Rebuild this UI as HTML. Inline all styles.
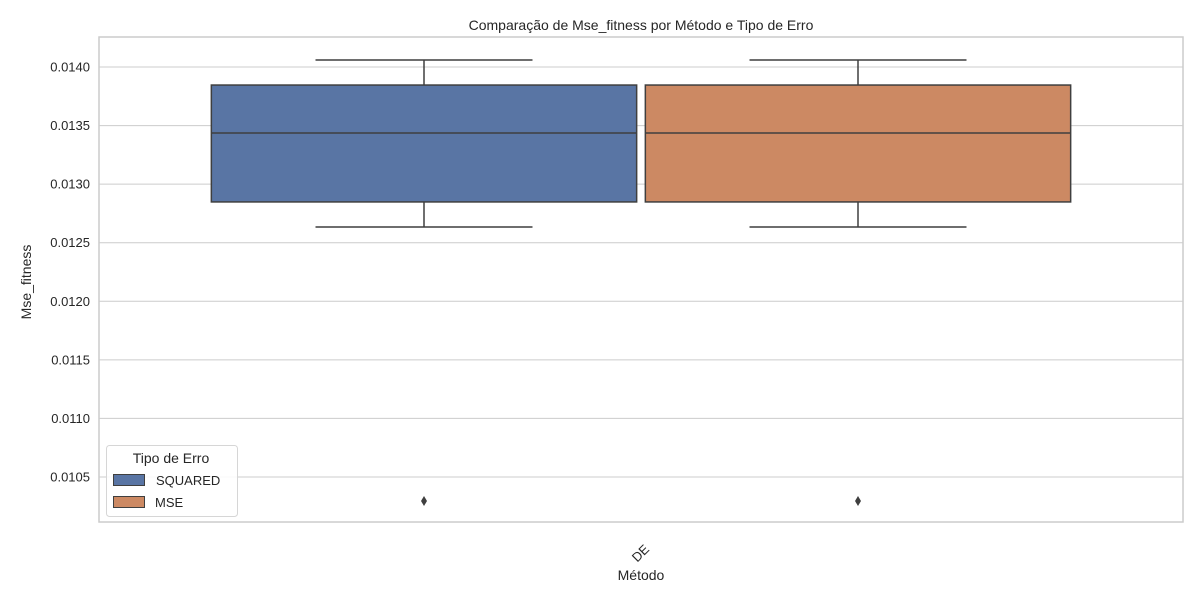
<!DOCTYPE html>
<html><head><meta charset="utf-8"><style>
body{margin:0;background:#fff;font-family:"Liberation Sans","DejaVu Sans",sans-serif;}
</style></head><body>
<svg id="chart" width="1200" height="600" xmlns="http://www.w3.org/2000/svg" font-family="Liberation Sans, DejaVu Sans, sans-serif">
<rect x="0" y="0" width="1200" height="600" fill="#fff"/>
<g id="grid"></g>
<rect x="99" y="37" width="1084" height="485" fill="none" stroke="#cccccc" stroke-width="1.5"/>
<g id="marks"></g>
<g id="yticks" font-size="13" fill="#262626"></g>
<text x="641" y="30" text-anchor="middle" font-size="14" fill="#262626">Comparação de Mse_fitness por Método e Tipo de Erro</text>
<text x="31" y="282" text-anchor="middle" font-size="14" fill="#262626" transform="rotate(-90 31 282)">Mse_fitness</text>
<text x="641" y="580" text-anchor="middle" font-size="14" fill="#262626">Método</text>
<text x="650" y="550" text-anchor="end" font-size="13" fill="#262626" transform="rotate(-45 650 550)">DE</text>
<g>
<rect x="106.5" y="445.5" width="131" height="71" rx="3" fill="#fff" fill-opacity="0.85" stroke="#d6d6d6"/>
<text x="171" y="463" text-anchor="middle" font-size="14" fill="#262626">Tipo de Erro</text>
<rect x="113.5" y="474.5" width="31" height="11" fill="#5975a4" stroke="#3f3f3f"/>
<text x="156" y="485" font-size="13" fill="#262626">SQUARED</text>
<rect x="113.5" y="496.5" width="31" height="11" fill="#cc8963" stroke="#3f3f3f"/>
<text x="155" y="507" font-size="13" fill="#262626">MSE</text>
</g>
</svg>
<script>
const categories = ["DE"];
const series = ["SQUARED","MSE"];
const colors = ["#5975a4","#cc8963"];
const whiskerLow = [0.012634, 0.012634];
const q1 = [0.012848, 0.012848];
const median = [0.013437, 0.013437];
const q3 = [0.013846, 0.013846];
const whiskerHigh = [0.014060, 0.014060];
const outliers = [[0.010295],[0.010295]];
const yTicks = [0.0105,0.0110,0.0115,0.0120,0.0125,0.0130,0.0135,0.0140];

const NS="http://www.w3.org/2000/svg";
function y(v){return 67+(0.0140-v)/0.0005*58.57;}
const catCenter = 641, groupW = 868;
function boxX(i){return catCenter-groupW/2+groupW/series.length*i;}
function mk(tag,attrs,parent){const e=document.createElementNS(NS,tag);for(const k in attrs)e.setAttribute(k,attrs[k]);parent.appendChild(e);return e;}
const grid=document.getElementById('grid'),marks=document.getElementById('marks'),yt=document.getElementById('yticks');
yTicks.forEach(t=>{
  const l=mk('line',{x1:99,x2:1183,y1:y(t),y2:y(t),stroke:'#cccccc','stroke-width':1},grid);
  
  
  const tx=mk('text',{x:90,y:y(t)+4.5,'text-anchor':'end'},yt);
  tx.textContent=t.toFixed(4);
  
  
});
series.forEach((s,i)=>{
  const bw=groupW/series.length, x0=boxX(i)+bw*0.01, w=bw*0.98, cx=boxX(i)+bw/2, cap=bw*0.25;
  const g=mk('g',{stroke:'#3f3f3f','stroke-width':1.5},marks);
  
  
  mk('line',{x1:cx,x2:cx,y1:y(whiskerHigh[i]),y2:y(q3[i])},g);
  mk('line',{x1:cx,x2:cx,y1:y(q1[i]),y2:y(whiskerLow[i])},g);
  mk('line',{x1:cx-cap,x2:cx+cap,y1:y(whiskerHigh[i]),y2:y(whiskerHigh[i])},g);
  mk('line',{x1:cx-cap,x2:cx+cap,y1:y(whiskerLow[i]),y2:y(whiskerLow[i])},g);
  mk('rect',{x:x0,y:y(q3[i]),width:w,height:y(q1[i])-y(q3[i]),fill:colors[i]},g);
  mk('line',{x1:x0,x2:x0+w,y1:y(median[i]),y2:y(median[i])},g);
  outliers[i].forEach(o=>{
    const yy=y(o);
    const p=mk('path',{d:`M${cx} ${yy-5}L${cx+3} ${yy}L${cx} ${yy+5}L${cx-3} ${yy}Z`,fill:'#3f3f3f',stroke:'none'},marks);
    
    
  });
});
</script>
</body></html>
